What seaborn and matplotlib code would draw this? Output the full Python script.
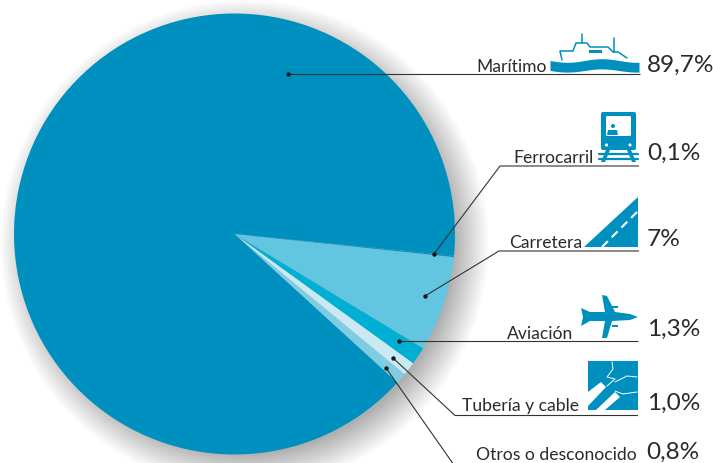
import numpy as np
import matplotlib.pyplot as plt
from matplotlib.patches import Polygon, Circle, Rectangle, FancyBboxPatch
import seaborn as sns

categories = ['Carretera', 'Aviación', 'Tubería y cable', 'Otros o desconocido', 'Marítimo', 'Ferrocarril']
shares = [7, 1.3, 1.0, 0.8, 89.7, 0.1]
share_labels = ['7%', '1,3%', '1,0%', '0,8%', '89,7%', '0,1%']
colors = ['#62c6e0', '#00b0d4', '#c9e9f3', '#7fcde3', '#0090bf', '#0090bf']

sns.set_theme(style='white')
plt.rcParams['font.family'] = ['Lato', 'DejaVu Sans']

W, H = 713, 464
cx, cy, r = 234.5, 235, 220.5
blue = '#0090bf'
ink = '#2b2a29'

fig = plt.figure(figsize=(W / 100, H / 100), dpi=100)
bg = fig.add_axes([0, 0, 1, 1])
bg.set_xlim(0, W)
bg.set_ylim(H, 0)
bg.axis('off')

# soft shadow behind the pie
for i in range(40):
    bg.add_patch(Circle((cx + 10, cy + 10), r + 24 - i * 0.9, fc='black', ec='none', alpha=0.0075))

ax = fig.add_axes([(cx - r) / W, 1 - (cy + r) / H, 2 * r / W, 2 * r / H])
ax.pie(shares, colors=colors, startangle=-6, counterclock=False, radius=1,
       wedgeprops={'linewidth': 0})
ax.set_xlim(-1, 1)
ax.set_ylim(-1, 1)

ov = fig.add_axes([0, 0, 1, 1])
ov.set_xlim(0, W)
ov.set_ylim(H, 0)
ov.axis('off')
ov.patch.set_alpha(0)

# leader lines
leaders = {
    'Marítimo': [(288, 75), (640, 75)],
    'Ferrocarril': [(434, 255), (500, 167), (639, 167)],
    'Carretera': [(425, 297), (499, 252), (639, 252)],
    'Aviación': [(399, 342), (638, 342)],
    'Tubería y cable': [(393, 359), (455, 416.5), (638, 416.5)],
    'Otros o desconocido': [(386, 369), (454, 466)],
}
for name, pts in leaders.items():
    xs, ys = zip(*pts)
    ov.plot(xs, ys, color='#333333', lw=0.8, solid_capstyle='butt', solid_joinstyle='miter')
    ov.plot(xs[0], ys[0], 'o', color='#1a1a1a', ms=3.2, mew=0)

# labels
label_pos = {
    'Marítimo': (547, 71.5, 647, 71.5),
    'Ferrocarril': (594, 163, 647, 160),
    'Carretera': (582, 248, 647, 246),
    'Aviación': (573, 339, 647, 336),
    'Tubería y cable': (579, 411, 647, 410),
    'Otros o desconocido': (637, 460.5, 646, 459),
}
for name, lab in zip(categories, share_labels):
    x1, y1, x2, y2 = label_pos[name]
    ov.text(x1, y1, name, ha='right', va='baseline', fontsize=12.6, color=ink)
    ov.text(x2, y2, lab, ha='left', va='baseline', fontsize=17.6, color=ink)

# ship
xw = np.linspace(550, 639, 120)
ov.fill_between(xw, 61.5 + 1.8 * np.sin((xw - 550) / 11), 71.5 + 1.6 * np.sin((xw - 550) / 11),
                color=blue, lw=0)
ship = [(562, 61), (560, 52), (573, 52), (576, 44), (587, 44), (590, 48), (608, 48), (613, 53),
        (618, 53), (627, 59)]
ov.plot(*zip(*ship), color=blue, lw=1.1)
ov.plot([581.7, 581.7], [35, 44], color=blue, lw=1.1)
ov.plot([614, 614], [39, 53], color=blue, lw=1.1)
ov.add_patch(Rectangle((589, 50.5), 13, 3, fc=blue, ec='none'))

# train
ov.add_patch(FancyBboxPatch((601, 113), 35, 38, boxstyle='round,pad=0,rounding_size=2', fc=blue, ec='none'))
ov.add_patch(FancyBboxPatch((606, 117), 25, 20, boxstyle='round,pad=0,rounding_size=1.5', fc='white', ec='none'))
ov.add_patch(Circle((606.5, 146), 1.6, fc='white', ec='none'))
ov.add_patch(Circle((630, 146), 1.6, fc='white', ec='none'))
ov.add_patch(Circle((613, 127), 2, fc=blue, ec='none'))
ov.add_patch(Polygon([(607, 136), (608, 131), (617, 131), (618, 136)], fc=blue, ec='none'))
for y in (155, 160):
    ov.plot([599, 638], [y, y], color=blue, lw=1.6)
ov.add_patch(Polygon([(606, 151), (610, 151), (605, 163), (601, 163)], fc=blue, ec='none'))
ov.add_patch(Polygon([(627, 151), (631, 151), (636, 163), (632, 163)], fc=blue, ec='none'))

# road
ov.add_patch(Polygon([(584, 248), (638, 198), (638, 248)], fc=blue, ec='none'))
ov.plot([602, 638], [248, 212], color='white', lw=1.5, ls=(0, (4, 2.6)))

# plane
plane = [(638, 318), (630, 321), (612, 322), (607, 339), (602, 339), (605, 322), (590, 322),
         (581, 327), (583, 318), (581, 309), (590, 313), (605, 313), (602, 296), (607, 297),
         (615, 313), (630, 315)]
ov.add_patch(Polygon(plane, fc=blue, ec='none'))
ov.add_patch(Rectangle((612, 307), 6, 2, fc=blue, ec='none'))
ov.add_patch(Rectangle((612, 326), 6, 2, fc=blue, ec='none'))

# pipeline
ov.add_patch(Rectangle((588, 362), 50, 49, fc=blue, ec='none'))
ov.add_patch(Polygon([(588, 393), (601, 383), (606, 388), (588, 407)], fc='white', ec='none'))
ov.add_patch(Polygon([(596, 411), (615, 393), (620, 398), (605, 411)], fc='white', ec='none'))
ov.plot([612, 613, 607, 615, 607], [363, 370, 378, 380, 387], color='white', lw=0.7)
ov.plot([615, 627, 637], [383, 377, 378], color='white', lw=0.7)
ov.plot([615, 623, 637], [392, 395, 393], color='white', lw=0.7)

fig.savefig('out.png', dpi=100)
